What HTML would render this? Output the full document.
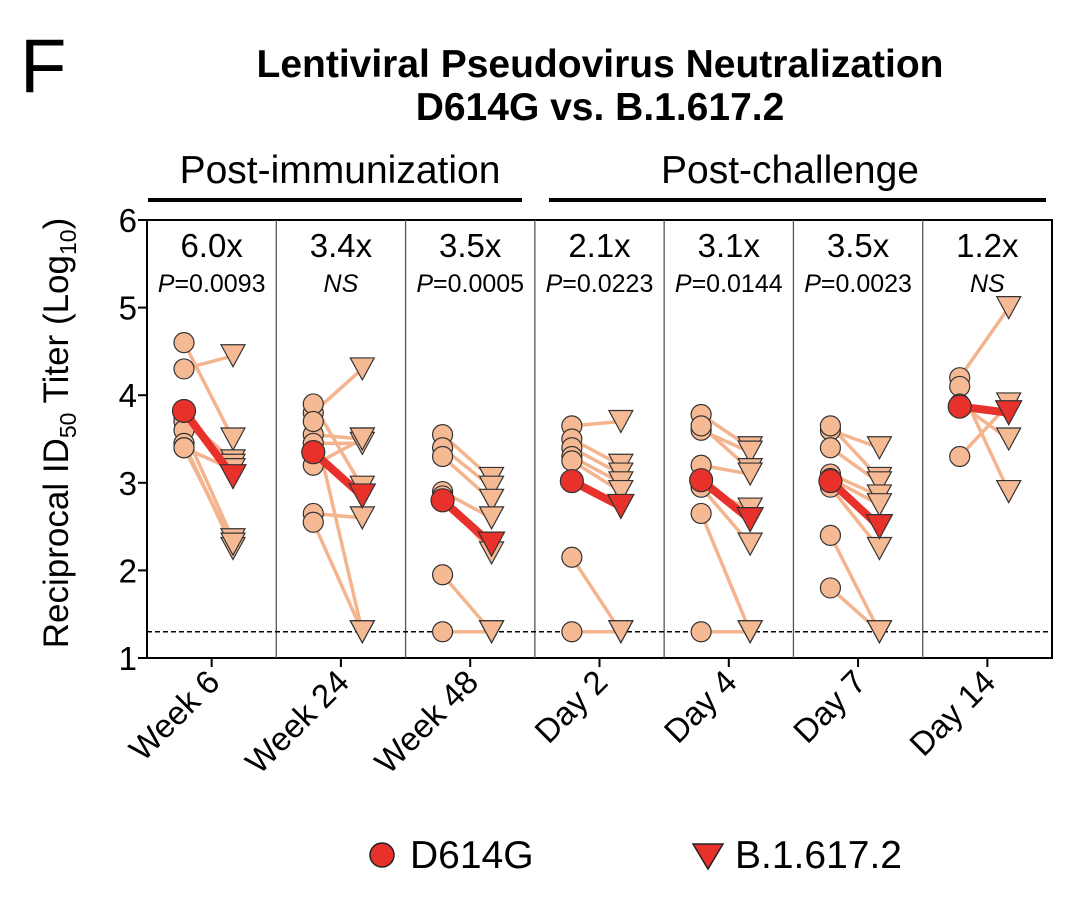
<!DOCTYPE html>
<html><head><meta charset="utf-8"><style>
body{margin:0;background:#fff}
svg text{font-family:"Liberation Sans",Arial,sans-serif}
</style></head><body>
<svg id="c" width="1080" height="902" viewBox="0 0 1080 902">
<text x="20" y="92" font-size="76">F</text>
<text x="600" y="77" font-size="39" font-weight="bold" text-anchor="middle">Lentiviral Pseudovirus Neutralization</text>
<text x="600" y="120" font-size="39" font-weight="bold" text-anchor="middle">D614G vs. B.1.617.2</text>
<text x="340" y="183" font-size="39" text-anchor="middle">Post-immunization</text>
<line x1="148" y1="200" x2="522" y2="200" stroke="#000" stroke-width="4"/>
<text x="790" y="183" font-size="39" text-anchor="middle">Post-challenge</text>
<line x1="549" y1="200" x2="1046" y2="200" stroke="#000" stroke-width="4"/>
<text transform="translate(68,433) rotate(-90)" font-size="35" text-anchor="middle">Reciprocal ID<tspan font-size="23" dy="8">50</tspan><tspan dy="-8"> Titer (Log</tspan><tspan font-size="23" dy="8">10</tspan><tspan dy="-8">)</tspan></text>
<g id="plot"></g>
<circle cx="382" cy="855" r="12" fill="#e8312a" stroke="#222" stroke-width="1.5"/>
<text x="410" y="868" font-size="39">D614G</text>
<polygon points="693,844 723,844 708,869" fill="#e8312a" stroke="#222" stroke-width="1.5"/>
<text x="735" y="868" font-size="39">B.1.617.2</text>
</svg>
<script>
const categories=["Week 6","Week 24","Week 48","Day 2","Day 4","Day 7","Day 14"];
const folds=["6.0x","3.4x","3.5x","2.1x","3.1x","3.5x","1.2x"];
const pvals=["0.0093","NS","0.0005","0.0223","0.0144","0.0023","NS"];
const yTicks=[1,2,3,4,5,6];
const limitOfDetection=1.3;
const d614g=[[4.6,4.3,3.75,3.7,3.6,3.45,3.4,3.4],[3.8,3.55,3.45,3.2,3.9,2.65,3.7,2.55],[3.55,3.4,3.3,2.9,2.85,1.95,1.3],[3.65,3.5,3.4,3.3,3.25,2.15,1.3],[3.78,3.6,3.65,3.2,2.95,2.95,2.65,1.3],[3.6,3.65,3.4,3.1,3.05,2.95,2.4,1.8],[4.2,4.1,3.3,3.9]];
const b16172=[[3.5,4.45,3.25,3.2,2.35,2.25,3.15,2.3],[4.3,3.5,3.45,3.5,2.95,2.6,1.3,1.3],[3.05,2.95,2.8,2.6,2.2,1.3,1.3],[3.7,3.2,3.1,3.0,2.9,1.3,1.3],[3.4,3.35,3.15,3.1,2.7,2.3,1.3,1.3],[3.4,3.05,3.0,2.85,2.75,2.25,1.3,1.3],[5.0,2.9,3.9,3.5]];
const meanD614G=[3.82,3.35,2.8,3.02,3.03,3.02,3.87];
const meanB16172=[3.07,2.85,2.3,2.73,2.58,2.5,3.8];

const NS="http://www.w3.org/2000/svg";
const g=document.getElementById('plot');
const L=147,R=1052,T=220,B=658;
const pw=(R-L)/categories.length;
const y=v=>B-(v-1)/5*(B-T);
const xc=i=>L+i*pw+37, xt=i=>L+i*pw+86;
function mk(tag,attrs){const e=document.createElementNS(NS,tag);for(const k in attrs)e.setAttribute(k,attrs[k]);g.appendChild(e);return e;}
let e;
e=mk('rect',{x:L,y:T,width:R-L,height:B-T,fill:'none',stroke:'#000','stroke-width':2});


for(let i=1;i<categories.length;i++){
 e=mk('line',{x1:L+i*pw,y1:T,x2:L+i*pw,y2:B,stroke:'#555','stroke-width':1.3});
 
 
}
yTicks.forEach(t=>{
 e=mk('line',{x1:L-9,y1:y(t),x2:L,y2:y(t),stroke:'#000','stroke-width':2});
 
 
 e=mk('text',{x:L-10,y:y(t)+12,'font-size':33,'text-anchor':'end'});e.textContent=t;
 
 
});
e=mk('line',{x1:L,y1:y(limitOfDetection),x2:R,y2:y(limitOfDetection),stroke:'#000','stroke-width':1.5,'stroke-dasharray':'5,3'});


categories.forEach((c,i)=>{
 const mx=L+i*pw+pw/2;
 e=mk('line',{x1:mx,y1:B,x2:mx,y2:B+9,stroke:'#000','stroke-width':2});
 
 
 e=mk('text',{x:0,y:0,'font-size':33,'text-anchor':'end',transform:`translate(${mx+10},${B+26}) rotate(-45)`});e.textContent=c;
 
 
 e=mk('text',{x:mx,y:257,'font-size':33,'text-anchor':'middle'});e.textContent=folds[i];
 
 
 e=mk('text',{x:mx,y:292,'font-size':25,'text-anchor':'middle'});
 if(pvals[i]==='NS'){e.innerHTML='<tspan font-style="italic">NS</tspan>';}
 else{e.innerHTML='<tspan font-style="italic">P</tspan>='+pvals[i];}
 
 
 d614g[i].forEach((v,j)=>{
  e=mk('line',{x1:xc(i),y1:y(v),x2:xt(i),y2:y(b16172[i][j]),stroke:'#f4b48e','stroke-width':3.5});
  
  
 });
 b16172[i].forEach(v=>{
  const px=xt(i),py=y(v);
  e=mk('polygon',{points:`${px-12},${py-11} ${px+12},${py-11} ${px},${py+11}`,fill:'#f5b994',stroke:'#333','stroke-width':1.2});
  
  
 });
 d614g[i].forEach(v=>{
  e=mk('circle',{cx:xc(i),cy:y(v),r:10,fill:'#f5b994',stroke:'#333','stroke-width':1.2});
  
  
 });
 e=mk('line',{x1:xc(i),y1:y(meanD614G[i]),x2:xt(i),y2:y(meanB16172[i]),stroke:'#e8312a','stroke-width':8});
 
 
 const px=xt(i),py=y(meanB16172[i]);
 e=mk('polygon',{points:`${px-13},${py-12} ${px+13},${py-12} ${px},${py+12}`,fill:'#e8312a',stroke:'#333','stroke-width':1.2});
 
 
 e=mk('circle',{cx:xc(i),cy:y(meanD614G[i]),r:11.5,fill:'#e8312a',stroke:'#333','stroke-width':1.2});
 
 
});
</script>
</body></html>
